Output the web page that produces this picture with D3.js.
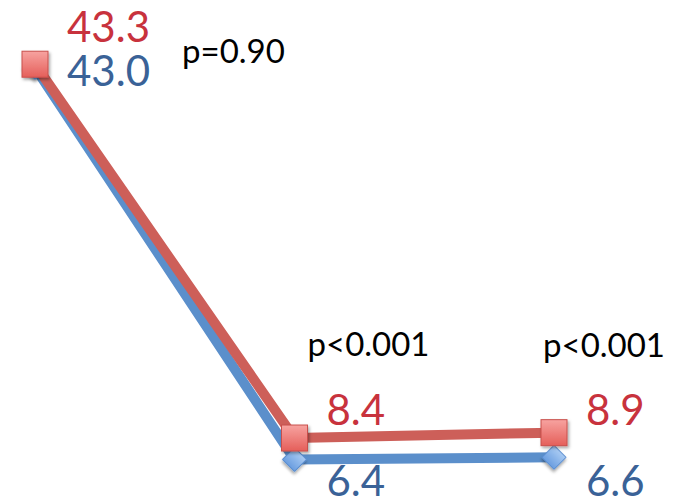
<!DOCTYPE html>
<html><head><meta charset="utf-8">
<script src="https://cdn.jsdelivr.net/npm/d3@7"></script>
<style>html,body{margin:0;padding:0;background:#fff;overflow:hidden}</style>
</head><body>
<svg id="c" width="678" height="502"></svg>
<script>
const categories = ["T1", "T2", "T3"];
const blueValues = [43.0, 6.4, 6.6];
const redValues = [43.3, 8.4, 8.9];
const pLabels = ["p=0.90", "p<0.001", "p<0.001"];

const svg = d3.select("#c");
const x = d3.scalePoint().domain(categories).range([35, 554]);
const y = d3.scaleLinear().domain([0, 45]).range([528, 46]);
const fmt = d3.format(".1f");

const defs = svg.append("defs");
const sh = defs.append("filter").attr("id","sh").attr("x","-50%").attr("y","-50%").attr("width","200%").attr("height","200%");
sh.append("feDropShadow").attr("dx",1.5).attr("dy",2).attr("stdDeviation",1.5).attr("flood-color","#000").attr("flood-opacity",0.35);
const gr = defs.append("linearGradient").attr("id","gr").attr("x1",0).attr("y1",0).attr("x2",0).attr("y2",1);
gr.append("stop").attr("offset","0%").attr("stop-color","#f7a3a0");
gr.append("stop").attr("offset","100%").attr("stop-color","#e55f5a");
const gb = defs.append("linearGradient").attr("id","gb").attr("x1",0).attr("y1",0).attr("x2",0).attr("y2",1);
gb.append("stop").attr("offset","0%").attr("stop-color","#a9cbf3");
gb.append("stop").attr("offset","100%").attr("stop-color","#6b9ee0");

const line = d3.line().x((d,i)=>x(categories[i])).y(d=>y(d));

svg.append("path").datum(blueValues).attr("d", line).attr("fill","none")
  .attr("stroke","#5b8fcb").attr("stroke-width",10).attr("stroke-linejoin","round");
svg.append("path").datum(redValues).attr("d", line).attr("fill","none")
  .attr("stroke","#cd5f59").attr("stroke-width",10).attr("stroke-linejoin","round");

svg.selectAll(".bm").data(blueValues).join("path").attr("class","bm")
  .attr("d", d3.symbol(d3.symbolSquare, 290)())
  .attr("transform",(d,i)=>`translate(${x(categories[i])},${y(d)}) rotate(45)`)
  .attr("fill","url(#gb)").attr("stroke","#5a8ed0").attr("stroke-width",1).attr("filter","url(#sh)");
svg.selectAll(".rm").data(redValues).join("rect").attr("class","rm")
  .attr("x",(d,i)=>x(categories[i])-13).attr("y",d=>y(d)-13)
  .attr("width",26).attr("height",26)
  .attr("fill","url(#gr)").attr("stroke","#c9504c").attr("stroke-width",1).attr("filter","url(#sh)");

const font = "Lato, 'Open Sans', sans-serif";
svg.selectAll(".rl").data(redValues).join("text").attr("class","rl")
  .attr("x",(d,i)=>x(categories[i]) + 32)
  .attr("y",(d,i)=> i===0 ? y(d) - 22 : 425)
  .attr("font-family",font).attr("font-size",42).attr("fill","#c8323d")
  .text(d=>fmt(d));
svg.selectAll(".bl").data(blueValues).join("text").attr("class","bl")
  .attr("x",(d,i)=>x(categories[i]) + 32)
  .attr("y",(d,i)=> i===0 ? y(d) + 19 : 496)
  .attr("font-family",font).attr("font-size",42).attr("fill","#3a6297")
  .text(d=>fmt(d));
const pdx = [147, 13, -11], pyy = [63, 356, 357];
svg.selectAll(".pl").data(pLabels).join("text").attr("class","pl")
  .attr("x",(d,i)=>x(categories[i]) + pdx[i])
  .attr("y",(d,i)=>pyy[i])
  .attr("font-family",font).attr("font-size",33).attr("fill","#000")
  .text(d=>d);
</script>
</body></html>
